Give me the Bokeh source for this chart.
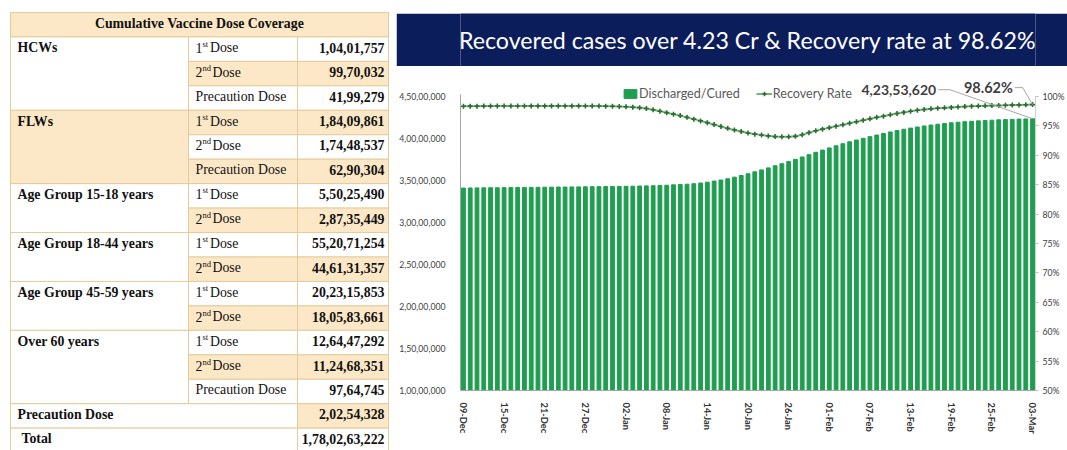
import pandas as pd
from bokeh.plotting import figure
from bokeh.models import (Range1d, LinearAxis, FixedTicker, Legend, LegendItem,
                          Label, ColumnDataSource, Spacer)
from bokeh.layouts import row, column
from bokeh.core.properties import value
from bokeh.embed import file_html
from bokeh.resources import INLINE

# ---------------- DATA ----------------
table_title = "Cumulative Vaccine Dose Coverage"
group_names = ["HCWs", "FLWs", "Age Group 15-18 years", "Age Group 18-44 years",
               "Age Group 45-59 years", "Over 60 years"]
group_sizes = [3, 3, 2, 2, 2, 3]
dose_kinds = ["1", "2", "P", "1", "2", "P", "1", "2", "1", "2", "1", "2", "1", "2", "P"]
dose_values = [10401757, 9970032, 4199279, 18409861, 17448537, 6290304,
               55025490, 28735449, 552071254, 446131357, 202315853, 180583661,
               126447292, 112468351, 9764745]
precaution_total = 20254328
grand_total = 1780263222

chart_title = "Recovered cases over 4.23 Cr & Recovery rate at 98.62%"
start_date = "2021-12-09"
discharged_cr = [
    3.410, 3.411, 3.412, 3.413, 3.414, 3.414, 3.415, 3.416, 3.417, 3.418,
    3.418, 3.419, 3.420, 3.421, 3.422, 3.422, 3.423, 3.424, 3.425, 3.426,
    3.427, 3.428, 3.429, 3.430, 3.431, 3.432, 3.434, 3.436, 3.438, 3.441,
    3.444, 3.448, 3.452, 3.456, 3.462, 3.470, 3.480, 3.493, 3.506, 3.521,
    3.540, 3.560, 3.580, 3.603, 3.626, 3.650, 3.675, 3.700, 3.725, 3.752,
    3.780, 3.808, 3.836, 3.862, 3.888, 3.913, 3.938, 3.961, 3.982, 4.002,
    4.022, 4.041, 4.060, 4.078, 4.095, 4.110, 4.124, 4.137, 4.149, 4.160,
    4.170, 4.179, 4.187, 4.194, 4.200, 4.205, 4.210, 4.214, 4.218, 4.222,
    4.225, 4.228, 4.231, 4.233, 4.235362]
recovery_rate = [
    98.35, 98.36, 98.36, 98.37, 98.37, 98.38, 98.38, 98.38, 98.39, 98.39,
    98.40, 98.40, 98.40, 98.40, 98.40, 98.40, 98.40, 98.40, 98.39, 98.39,
    98.38, 98.36, 98.34, 98.30, 98.25, 98.18, 98.10, 97.95, 97.75, 97.50,
    97.25, 97.00, 96.75, 96.45, 96.15, 95.85, 95.55, 95.22, 94.90, 94.58,
    94.30, 94.05, 93.80, 93.60, 93.45, 93.30, 93.18, 93.15, 93.15, 93.22,
    93.50, 93.85, 94.18, 94.45, 94.70, 94.95, 95.20, 95.45, 95.70, 95.95,
    96.20, 96.45, 96.65, 96.90, 97.10, 97.30, 97.50, 97.65, 97.80, 97.90,
    98.00, 98.07, 98.15, 98.22, 98.28, 98.33, 98.37, 98.41, 98.45, 98.48,
    98.51, 98.54, 98.57, 98.60, 98.62]
left_ticks = [10000000, 15000000, 20000000, 25000000, 30000000, 35000000, 40000000, 45000000]
right_ticks = [50, 55, 60, 65, 70, 75, 80, 85, 90, 95, 100]
date_tick_step = 6
last_value_label = "4,23,53,620"
last_rate_label = "98.62%"


def inr(n):
    s = str(int(n))
    if len(s) <= 3:
        return s
    last3, rest = s[-3:], s[:-3]
    parts = []
    while len(rest) > 2:
        parts.insert(0, rest[-2:])
        rest = rest[:-2]
    if rest:
        parts.insert(0, rest)
    return ",".join(parts) + "," + last3


SERIF = value("Liberation Serif")
SHADE = "#fce8c6"
BORDER = "#e4cb9c"
NAVY = "#0c1d5b"
FS = "13.8px"

# ---------------- TABLE ----------------
TW, TH = 396, 450
tp = figure(width=TW, height=TH, x_range=Range1d(0, TW), y_range=Range1d(TH, 0),
            x_axis_type=None, y_axis_type=None, toolbar_location=None,
            output_backend="svg", min_border=0, outline_line_color=None)
tp.grid.visible = False
C0, C1, C2, C3 = 10, 188, 297, 388
TOP, RH = 12, 24.45


def rtop(r):
    return TOP + r * RH


q = dict(left=[], right=[], top=[], bottom=[], fill=[])


def cell(l, r, r0, r1, shaded):
    q["left"].append(l); q["right"].append(r)
    q["top"].append(rtop(r0)); q["bottom"].append(rtop(r1))
    q["fill"].append(SHADE if shaded else "#ffffff")


cell(C0, C3, 0, 1, True)
r = 1
for g, n in zip(group_names, group_sizes):
    cell(C0, C1, r, r + n, g == "FLWs")
    r += n
for i in range(len(dose_values)):
    cell(C1, C2, 1 + i, 2 + i, i % 2 == 1)
    cell(C2, C3, 1 + i, 2 + i, i % 2 == 1)
n_d = len(dose_values)
cell(C0, C2, 1 + n_d, 2 + n_d, False)
cell(C2, C3, 1 + n_d, 2 + n_d, True)
cell(C0, C2, 2 + n_d, 3 + n_d, False)
cell(C2, C3, 2 + n_d, 3 + n_d, False)
tp.quad(left="left", right="right", top="top", bottom="bottom", fill_color="fill",
        line_color=BORDER, line_width=1, source=ColumnDataSource(q))


def mid(r):
    return rtop(r) + RH / 2 - 1.5


txt = dict(x=[], y=[], text=[], align=[], style=[], size=[])


def put(x, y, t, align="left", style="normal", size=FS):
    txt["x"].append(x); txt["y"].append(y); txt["text"].append(t)
    txt["align"].append(align); txt["style"].append(style); txt["size"].append(size)


put((C0 + C3) / 2, mid(0), table_title, "center", "bold")
r = 1
for g, n in zip(group_names, group_sizes):
    put(C0 + 7, mid(r), g, "left", "bold")
    r += n
sup = {"1": "st", "2": "nd"}
for i, (k, v) in enumerate(zip(dose_kinds, dose_values)):
    y = mid(1 + i)
    if k == "P":
        put(C1 + 7, y, "Precaution Dose")
    else:
        put(C1 + 7, y, k)
        put(C1 + 14, y - 4, sup[k], "left", "normal", "8.5px")
        put(C1 + (21.5 if k == "1" else 24), y, "Dose")
    put(C3 - 4, y, inr(v), "right", "bold")
put(C0 + 7, mid(1 + n_d), "Precaution Dose", "left", "bold")
put(C3 - 4, mid(1 + n_d), inr(precaution_total), "right", "bold")
put(C0 + 11, mid(2 + n_d), "Total", "left", "bold")
put(C3 - 4, mid(2 + n_d), inr(grand_total), "right", "bold")
tp.text(x="x", y="y", text="text", text_align="align", text_font_style="style",
        text_font_size="size", text_baseline="middle", text_font=SERIF,
        text_color="#111111", source=ColumnDataSource(txt))

# ---------------- BANNER ----------------
RW = 671
BH = 53
b = figure(width=RW, height=BH, x_range=Range1d(0, 1), y_range=Range1d(0, 1),
           x_axis_type=None, y_axis_type=None, toolbar_location=None,
           output_backend="svg", min_border_left=0, min_border_right=0,
           min_border_top=0, min_border_bottom=0, outline_line_color=None,
           background_fill_color=NAVY, border_fill_color=NAVY)
b.grid.visible = False
b.text(x=[0.5], y=[0.5], text=[chart_title], text_color="white",
       text_align="center", text_baseline="middle", text_font=value("Lato"),
       text_font_size="23.2px")

# ---------------- CHART ----------------
PH = 384
MB_TOP, MB_BOT = 8, 60
FRAME_W, FRAME_H = 585, PH - MB_TOP - MB_BOT
PX_PER_CR = 84.0
n = len(discharged_cr)
idx = list(range(n))
dates = pd.date_range(start_date, periods=n).strftime("%d-%b").tolist()
disc = [v * 1e7 for v in discharged_cr]
y0 = left_ticks[0]
px_cr = 1e7 / PX_PER_CR
y_top = y0 + FRAME_H * px_cr
px_rate = (right_ticks[-1] - right_ticks[0]) / (PX_PER_CR * 3.5)
r_top = right_ticks[0] + FRAME_H * px_rate
XPAD = 0.435

p = figure(width=RW, height=PH, x_range=Range1d(-XPAD, n - 1 + XPAD),
           y_range=Range1d(y0, y_top), output_backend="svg", toolbar_location=None,
           min_border_left=59, min_border_right=27, min_border_top=MB_TOP,
           min_border_bottom=MB_BOT, outline_line_color=None)
p.extra_y_ranges = {"rate": Range1d(right_ticks[0], r_top)}
p.grid.visible = False

src = ColumnDataSource(dict(idx=idx, disc=disc, rate=recovery_rate, date=dates))
bars = p.vbar(x="idx", top="disc", bottom=y0, width=0.56, color="#1f9e50", source=src)
ln = p.line("idx", "rate", y_range_name="rate", color="#74b874", line_width=2, source=src)
pts = p.scatter("idx", "rate", y_range_name="rate", marker="cross", size=5,
                line_color="#2e6b38", line_width=1.6, source=src)

AX_FONT = "Lato"
ya = p.yaxis[0]
ya.ticker = FixedTicker(ticks=left_ticks)
ya.bounds = (left_ticks[0], left_ticks[-1] + 2 * px_cr)
ya.major_label_overrides = {t: inr(t) for t in left_ticks}
ya.major_tick_line_color = None
ya.minor_tick_line_color = None
ya.axis_line_color = "#a6a6a6"
ya.major_label_text_font_size = "8.7px"
ya.major_label_text_font = AX_FONT
ya.major_label_text_color = "#404040"
ya.major_label_standoff = 9

ra = LinearAxis(y_range_name="rate", ticker=FixedTicker(ticks=right_ticks),
                bounds=(right_ticks[0], right_ticks[-1]),
                major_label_overrides={t: f"{t}%" for t in right_ticks})
ra.axis_line_color = "#d0d0d0"
ra.major_tick_line_color = "#c0c0c0"
ra.major_tick_out = 3
ra.major_tick_in = 0
ra.minor_tick_line_color = None
ra.major_label_text_font_size = "8.7px"
ra.major_label_text_font = AX_FONT
ra.major_label_text_color = "#404040"
ra.major_label_standoff = 4
p.add_layout(ra, "right")

xa = p.xaxis[0]
date_ticks = list(range(0, n, date_tick_step))
xa.ticker = FixedTicker(ticks=date_ticks)
xa.major_label_overrides = {t: dates[t] for t in date_ticks}
xa.major_label_orientation = "vertical"
xa.major_label_text_font_size = "9.3px"
xa.major_label_text_font_style = "bold"
xa.major_label_text_font = AX_FONT
xa.major_label_text_color = "#333333"
xa.major_tick_line_color = None
xa.minor_tick_line_color = None
xa.axis_line_color = "#a6a6a6"
xa.major_label_standoff = 6

legend = Legend(items=[LegendItem(label="Discharged/Cured", renderers=[bars]),
                       LegendItem(label="Recovery Rate", renderers=[ln, pts])],
                orientation="horizontal", location=(162, 289),
                border_line_color=None, background_fill_alpha=0,
                label_text_font_size="12.6px", label_text_font=AX_FONT,
                label_text_color="#595959", glyph_width=16, glyph_height=11,
                spacing=16, padding=0, margin=0, label_standoff=1)
p.add_layout(legend)

# value callouts for the last day
px_x = (n - 1 + 2 * XPAD) / FRAME_W
li = idx[-1]
lv = disc[-1]
lr = recovery_rate[-1]
lab1_x, lab1_y = li - 98 * px_x, lv + 29 * px_cr
lab2_x, lab2_y = li - 20 * px_x, lr + 17 * px_rate
p.line([lab1_x + 2 * px_x, lab1_x + 14 * px_x, li], [lab1_y, lab1_y, lv],
       color="#a6a6a6", line_width=1)
p.line([lab2_x + 2 * px_x, lab2_x + 10 * px_x, li], [lab2_y, lab2_y, lr],
       y_range_name="rate", color="#a6a6a6", line_width=1)
p.add_layout(Label(x=lab1_x, y=lab1_y, text=last_value_label, text_align="right",
                   text_baseline="middle", text_font_style="bold",
                   text_font_size="14px", text_font=AX_FONT, text_color="#404040"))
p.add_layout(Label(x=lab2_x, y=lab2_y, y_range_name="rate", text=last_rate_label,
                   text_align="right", text_baseline="middle",
                   text_font_style="bold", text_font_size="14.5px",
                   text_font=AX_FONT, text_color="#404040"))

layout = row(tp, column(Spacer(width=RW, height=13), b, p))
open("out.html", "w").write(file_html(layout, INLINE))
